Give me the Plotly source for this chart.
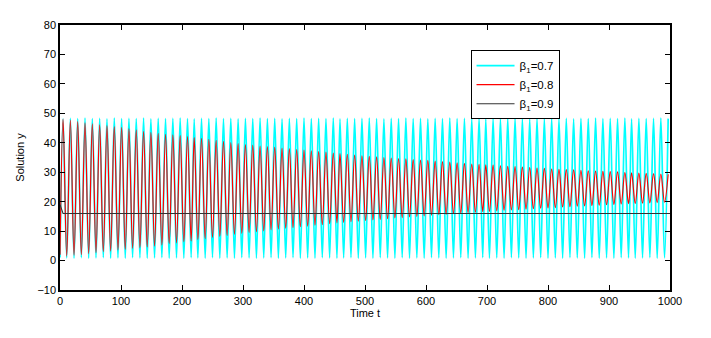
import plotly.graph_objects as go

# Times of the oscillation maxima and minima
start_t = 0
peak_t = [5, 17, 29, 41, 53, 65, 77, 89, 101, 113,
          125, 137, 149, 161, 173, 185, 197, 209, 220, 232,
          244, 256, 268, 280, 292, 304, 316, 328, 340, 352,
          364, 376, 388, 400, 412, 424, 436, 448, 459, 471,
          483, 495, 507, 519, 531, 543, 555, 567, 579, 591,
          603, 615, 627, 639, 651, 663, 675, 687, 698, 710,
          722, 734, 746, 758, 770, 782, 794, 806, 818, 830,
          842, 854, 866, 878, 890, 902, 914, 926, 937, 949,
          961, 973, 985, 997]
trough_t = [11, 23, 35, 47, 59, 71, 83, 95, 107, 119,
            131, 143, 155, 167, 179, 191, 203, 215, 226, 238,
            250, 262, 274, 286, 298, 310, 322, 334, 346, 358,
            370, 382, 394, 406, 418, 430, 442, 454, 465, 477,
            489, 501, 513, 525, 537, 549, 561, 573, 585, 597,
            609, 621, 633, 645, 657, 669, 681, 693, 704, 716,
            728, 740, 752, 764, 776, 788, 800, 812, 824, 836,
            848, 860, 872, 884, 896, 908, 920, 932, 943, 955,
            967, 979, 991]

# beta1 = 0.7 (cyan)
cyan_start = 1.0
cyan_peaks = [48.1, 48.3, 48.2, 48.4, 48.2, 48.3, 48.1, 48.4, 48.2, 48.3,
              48.2, 48.4, 48.1, 48.3, 48.2, 48.3, 48.4, 48.2, 48.1, 48.3,
              48.2, 48.4, 48.2, 48.3, 48.1, 48.3, 48.2, 48.4, 48.2, 48.3,
              48.1, 48.3, 48.2, 48.4, 48.2, 48.3, 48.2, 48.4, 48.1, 48.3,
              48.2, 48.3, 48.4, 48.2, 48.1, 48.3, 48.2, 48.4, 48.2, 48.3,
              48.1, 48.3, 48.2, 48.4, 48.2, 48.3, 48.2, 48.4, 48.1, 48.3,
              48.2, 48.3, 48.4, 48.2, 48.1, 48.3, 48.2, 48.4, 48.2, 48.3,
              48.1, 48.3, 48.2, 48.4, 48.2, 48.3, 48.2, 48.4, 48.1, 48.3,
              48.2, 48.3, 48.4, 48.2]
cyan_troughs = [0.9, 0.8, 1.0, 0.8, 0.9, 1.0, 0.8, 0.9, 0.8, 1.0,
                0.9, 0.8, 0.9, 1.0, 0.8, 0.9, 0.8, 1.0, 0.9, 0.8,
                1.0, 0.8, 0.9, 0.8, 1.0, 0.9, 0.8, 0.9, 1.0, 0.8,
                0.9, 1.0, 0.8, 0.9, 0.8, 1.0, 0.9, 0.8, 0.9, 1.0,
                0.8, 0.9, 0.8, 1.0, 0.9, 0.8, 1.0, 0.8, 0.9, 0.8,
                1.0, 0.9, 0.8, 0.9, 1.0, 0.8, 0.9, 1.0, 0.8, 0.9,
                0.8, 1.0, 0.9, 0.8, 0.9, 1.0, 0.8, 0.9, 0.8, 1.0,
                0.9, 0.8, 1.0, 0.8, 0.9, 0.8, 1.0, 0.9, 0.8, 0.9,
                1.0, 0.8, 0.9]

# beta1 = 0.8 (red)
red_start = 2.0
red_peaks = [48.0, 47.6, 47.2, 46.8, 46.4, 46.1, 45.8, 45.5, 45.2, 44.8,
             44.4, 43.9, 43.5, 43.2, 42.9, 42.7, 42.4, 42.1, 41.8, 41.5,
             41.2, 40.8, 40.5, 40.1, 39.7, 39.4, 39.2, 38.9, 38.7, 38.5,
             38.2, 38.0, 37.7, 37.5, 37.3, 37.0, 36.8, 36.5, 36.3, 36.1,
             35.8, 35.6, 35.4, 35.2, 35.0, 34.8, 34.6, 34.5, 34.3, 34.1,
             34.0, 33.8, 33.6, 33.4, 33.2, 33.0, 32.8, 32.7, 32.5, 32.4,
             32.2, 32.0, 31.9, 31.7, 31.6, 31.4, 31.3, 31.1, 31.0, 30.9,
             30.8, 30.6, 30.5, 30.4, 30.3, 30.2, 30.1, 29.9, 29.8, 29.7,
             29.6, 29.5, 29.4, 29.3]
red_troughs = [1.5, 1.8, 2.0, 2.4, 2.7, 3.0, 3.2, 3.6, 3.8, 4.1,
               4.3, 4.6, 4.9, 5.3, 5.7, 6.0, 6.4, 6.7, 7.1, 7.4,
               7.8, 8.2, 8.5, 8.9, 9.2, 9.5, 9.8, 10.1, 10.4, 10.7,
               11.0, 11.2, 11.5, 11.7, 12.0, 12.2, 12.5, 12.8, 13.0, 13.2,
               13.4, 13.6, 13.8, 14.0, 14.2, 14.5, 14.6, 14.8, 15.0, 15.2,
               15.4, 15.6, 15.7, 15.9, 16.1, 16.3, 16.4, 16.6, 16.7, 16.9,
               17.1, 17.2, 17.3, 17.5, 17.6, 17.8, 17.9, 18.0, 18.2, 18.3,
               18.5, 18.6, 18.7, 18.8, 19.0, 19.1, 19.2, 19.3, 19.4, 19.5,
               19.6, 19.7, 19.8]

# beta1 = 0.9 (black)
black_t = [0, 2, 5, 1000]
black_y = [19.0, 17.5, 16.0, 16.0]

x_ticks = [0, 100, 200, 300, 400, 500, 600, 700, 800, 900, 1000]
y_ticks = [-10, 0, 10, 20, 30, 40, 50, 60, 70, 80]


def interleave(start_val, peaks, troughs):
    xs, ys = [start_t], [start_val]
    for i in range(len(peak_t)):
        xs.append(peak_t[i]); ys.append(peaks[i])
        if i < len(trough_t):
            xs.append(trough_t[i]); ys.append(troughs[i])
    return xs, ys


cx, cy = interleave(cyan_start, cyan_peaks, cyan_troughs)
rx, ry = interleave(red_start, red_peaks, red_troughs)

fig = go.Figure()
fig.add_trace(go.Scatter(x=cx, y=cy, mode="lines", name="β<sub>1</sub>=0.7",
                         line=dict(color="#00FFFF", width=1.7, shape="spline", smoothing=1)))
fig.add_trace(go.Scatter(x=rx, y=ry, mode="lines", name="β<sub>1</sub>=0.8",
                         line=dict(color="#FF0000", width=1.2, shape="spline", smoothing=1)))
fig.add_trace(go.Scatter(x=black_t, y=black_y, mode="lines", name="β<sub>1</sub>=0.9",
                         line=dict(color="#333333", width=1.1)))

axis_common = dict(showline=True, linecolor="black", linewidth=1.5, mirror="ticks",
                   ticks="inside", ticklen=5, tickcolor="black", tickwidth=1,
                   showgrid=False, zeroline=False,
                   tickfont=dict(family="Arial, Liberation Sans", size=11, color="black"))

fig.update_layout(
    width=703, height=330,
    margin=dict(l=46, r=41, t=11, b=48),
    paper_bgcolor="white", plot_bgcolor="white",
    font=dict(family="Arial, Liberation Sans", color="black"),
    xaxis=dict(range=[0, 1000], tickvals=x_ticks,
               title=dict(text="Time t", font=dict(size=11), standoff=2), **axis_common),
    yaxis=dict(range=[-10, 80], tickvals=y_ticks,
               title=dict(text="Solution y", font=dict(size=11), standoff=11), **axis_common),
    legend=dict(x=0.673, y=0.905, xanchor="left", yanchor="top",
                bgcolor="white", bordercolor="black", borderwidth=1,
                font=dict(family="Arial, Liberation Sans", size=11.5, color="black"),
                tracegroupgap=0, itemwidth=38),
    showlegend=True,
)

fig.write_html("out.html")
